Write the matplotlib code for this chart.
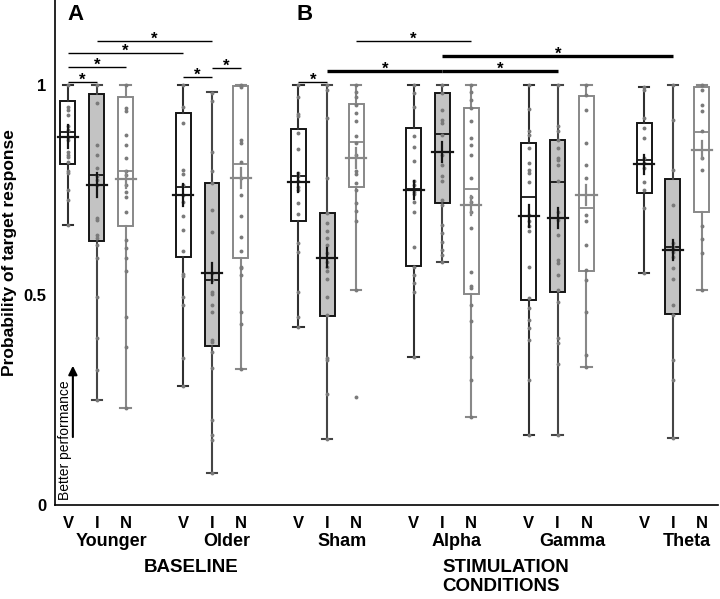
import numpy as np
import matplotlib.pyplot as plt

plt.rcParams['font.family'] = ['Liberation Sans', 'DejaVu Sans']

groups = ["Younger", "Older", "Sham", "Alpha", "Gamma", "Theta"]
conds = ["V", "I", "N"]

# box stats, order: group x (V, I, N)
q1 = [0.811, 0.629, 0.664, 0.591, 0.379, 0.587, 0.675, 0.450, 0.758,
      0.569, 0.718, 0.502, 0.487, 0.506, 0.556, 0.742, 0.455, 0.697]
med = [0.888, 0.786, 0.794, 0.756, 0.536, 0.812, 0.782, 0.589, 0.865,
       0.752, 0.883, 0.752, 0.734, 0.768, 0.706, 0.821, 0.615, 0.887]
q3 = [0.962, 0.979, 0.970, 0.933, 0.766, 0.998, 0.895, 0.694, 0.954,
      0.897, 0.980, 0.946, 0.861, 0.869, 0.974, 0.910, 0.775, 0.996]
wlo = [0.667, 0.250, 0.230, 0.284, 0.075, 0.324, 0.423, 0.157, 0.512,
       0.353, 0.579, 0.210, 0.167, 0.167, 0.329, 0.552, 0.159, 0.512]
whi = [1.0, 1.0, 1.0, 1.0, 0.982, 1.0, 1.0, 1.0, 1.0,
       1.0, 1.0, 1.0, 1.0, 1.0, 1.0, 0.996, 1.0, 1.0]
means = [0.877, 0.762, 0.775, 0.737, 0.553, 0.778, 0.768, 0.589, 0.825,
         0.750, 0.841, 0.713, 0.687, 0.683, 0.737, 0.811, 0.606, 0.845]
sem = [0.028, 0.028, 0.020, 0.026, 0.024, 0.024, 0.022, 0.022, 0.024,
       0.022, 0.024, 0.022, 0.026, 0.024, 0.024, 0.022, 0.024, 0.022]

# individual subjects
points = [
    [1.0, 0.948, 0.94, 0.929, 0.901, 0.893, 0.877, 0.869, 0.841, 0.833, 0.829,
     0.817, 0.794, 0.79, 0.75, 0.726, 0.667],
    [1.0, 0.956, 0.857, 0.833, 0.803, 0.782, 0.774, 0.762, 0.683, 0.679, 0.643,
     0.635, 0.619, 0.587, 0.496, 0.397, 0.321, 0.25],
    [1.0, 0.944, 0.937, 0.881, 0.857, 0.825, 0.794, 0.786, 0.762, 0.746, 0.734,
     0.698, 0.631, 0.611, 0.587, 0.556, 0.448, 0.377, 0.23],
    [1.0, 0.948, 0.909, 0.798, 0.787, 0.762, 0.738, 0.722, 0.687, 0.655, 0.605,
     0.549, 0.544, 0.494, 0.476, 0.351, 0.284],
    [0.98, 0.962, 0.841, 0.794, 0.767, 0.702, 0.649, 0.552, 0.536, 0.508, 0.502,
     0.476, 0.46, 0.393, 0.387, 0.365, 0.325, 0.202, 0.167, 0.155, 0.075],
    [1.0, 0.996, 0.869, 0.861, 0.817, 0.778, 0.737, 0.689, 0.639, 0.605, 0.567,
     0.563, 0.548, 0.459, 0.43, 0.324],
    [1.0, 0.972, 0.93, 0.925, 0.885, 0.848, 0.79, 0.782, 0.77, 0.758, 0.75,
     0.718, 0.692, 0.623, 0.603, 0.508, 0.448, 0.423],
    [1.0, 0.988, 0.921, 0.778, 0.694, 0.671, 0.651, 0.635, 0.619, 0.599, 0.579,
     0.567, 0.556, 0.538, 0.496, 0.452, 0.349, 0.345, 0.264, 0.157],
    [1.0, 0.984, 0.972, 0.952, 0.933, 0.913, 0.879, 0.861, 0.833, 0.794, 0.787,
     0.766, 0.75, 0.718, 0.7, 0.675, 0.512, 0.256],
    [1.0, 0.98, 0.948, 0.879, 0.851, 0.819, 0.771, 0.762, 0.746, 0.74, 0.722,
     0.698, 0.615, 0.567, 0.548, 0.528, 0.508, 0.353],
    [1.0, 0.98, 0.94, 0.917, 0.909, 0.881, 0.833, 0.81, 0.782, 0.77, 0.726,
     0.714, 0.667, 0.647, 0.627, 0.607, 0.595, 0.579],
    [1.0, 0.984, 0.964, 0.944, 0.914, 0.873, 0.857, 0.833, 0.779, 0.732, 0.722,
     0.698, 0.659, 0.554, 0.522, 0.516, 0.476, 0.437, 0.352, 0.298, 0.21],
    [1.0, 0.942, 0.889, 0.881, 0.849, 0.813, 0.798, 0.79, 0.768, 0.69, 0.675,
     0.663, 0.651, 0.567, 0.492, 0.468, 0.44, 0.421, 0.393, 0.298, 0.167],
    [1.0, 0.901, 0.889, 0.869, 0.849, 0.825, 0.821, 0.81, 0.77, 0.698, 0.679,
     0.643, 0.583, 0.575, 0.548, 0.512, 0.484, 0.397, 0.385, 0.335, 0.167],
    [1.0, 0.976, 0.94, 0.861, 0.81, 0.778, 0.69, 0.675, 0.619, 0.56, 0.536,
     0.46, 0.357, 0.329],
    [0.996, 0.988, 0.921, 0.897, 0.873, 0.825, 0.813, 0.802, 0.768, 0.75,
     0.706, 0.552],
    [1.0, 0.917, 0.798, 0.713, 0.623, 0.615, 0.603, 0.591, 0.563, 0.538, 0.476,
     0.452, 0.345, 0.298, 0.159],
    [1.0, 0.988, 0.951, 0.937, 0.889, 0.827, 0.798, 0.663, 0.633, 0.599, 0.512],
]

# significant pairs (box index a, box index b, bar height, thick bar)
sig_pairs = [(0, 1, 1.007, False), (0, 2, 1.043, False), (0, 3, 1.076, False),
             (1, 4, 1.105, False), (3, 4, 1.019, False), (4, 5, 1.040, False),
             (6, 7, 1.007, False), (8, 11, 1.105, False), (7, 10, 1.033, True),
             (10, 16, 1.069, True), (10, 13, 1.033, True)]

edge = {'V': '#151515', 'I': '#151515', 'N': '#888888'}
fill = {'V': 'white', 'I': '#c3c3c3', 'N': 'white'}
whisk = {'V': '#303030', 'I': '#454545', 'N': '#888888'}

fig = plt.figure(figsize=(7.2, 5.99), dpi=100)
ax = fig.add_axes([0.0764, 0.157, 0.921, 0.843])

pos = [1 + 4 * g + c for g in range(len(groups)) for c in range(len(conds))]
box_cond = [c for g in groups for c in conds]

stats = []
for i in range(len(pos)):
    stats.append(dict(med=med[i], q1=q1[i], q3=q3[i], whislo=wlo[i],
                      whishi=whi[i], fliers=[]))

bp = ax.bxp(stats, positions=pos, widths=0.52, patch_artist=True,
            showfliers=False, capwidths=0.36)
for i, c in enumerate(box_cond):
    bp['boxes'][i].set(facecolor=fill[c], edgecolor=edge[c], linewidth=1.4, zorder=2)
    bp['medians'][i].set(color=edge[c], linewidth=1.3, zorder=3)
    for k in (2 * i, 2 * i + 1):
        bp['whiskers'][k].set(color=whisk[c], linewidth=1.5)
        bp['caps'][k].set(color=whisk[c], linewidth=1.5)

for i, c in enumerate(box_cond):
    p = pos[i]
    ax.plot([p] * len(points[i]), points[i], 'o', ms=2.8, color='#7a7a7a',
            mec='none', zorder=4)
    ax.plot([p - 0.35, p + 0.35], [means[i], means[i]], color=edge[c], lw=1.6, zorder=5)
    ax.plot([p, p], [means[i] - sem[i], means[i] + sem[i]], color=edge[c],
            lw=1.6, zorder=5)

for a, b, y, thick in sig_pairs:
    ax.plot([pos[a], pos[b]], [y, y], color='black', lw=2.4 if thick else 1.0,
            solid_capstyle='butt', clip_on=False)
    ax.text((pos[a] + pos[b]) / 2, y + 0.004, '*', ha='center', va='center',
            fontsize=12, fontweight='bold')

ax.set_xlim(0.55, 23.57)
ax.set_ylim(0, 1.202)
ax.spines['top'].set_visible(False)
ax.spines['right'].set_visible(False)
ax.spines['left'].set_linewidth(1.2)
ax.spines['bottom'].set_linewidth(1.2)

ax.set_xticks(pos)
ax.set_xticklabels(box_cond, fontsize=12, fontweight='bold')
ax.set_yticks([0, 0.5, 1])
ax.set_yticklabels(['0', '0.5', '1'], fontsize=12, fontweight='bold')
ax.tick_params(axis='x', length=0, pad=8)
ax.tick_params(axis='y', length=0, pad=6)

ax.set_ylabel('Probability of target response', fontsize=12.5, fontweight='bold')
ax.yaxis.set_label_coords(-0.057, 0.5)

tr = ax.get_xaxis_transform()
for g, name in enumerate(groups):
    ax.text(pos[3 * g + 1] + 0.5, -0.073, name, transform=tr, ha='center',
            va='center', fontsize=13, fontweight='bold')
ax.text(5.27, -0.123, 'BASELINE', transform=tr, ha='center', va='center',
        fontsize=13.5, fontweight='bold')
ax.text(14.0, -0.108, 'STIMULATION\nCONDITIONS', transform=tr, ha='left',
        va='top', fontsize=13.5, fontweight='bold', linespacing=1.15)

ax.text(0.9, 0.012, 'Better performance', rotation=90, ha='center',
        va='bottom', fontsize=10)
ax.annotate('', xy=(1.17, 0.338), xytext=(1.17, 0.155),
            arrowprops=dict(arrowstyle='-|>', color='black', lw=1.5,
                            mutation_scale=13))

fig.text(75 / 720, 1 - 15 / 599, 'A', ha='center', va='center', fontsize=16,
         fontweight='bold')
fig.text(305 / 720, 1 - 15 / 599, 'B', ha='center', va='center', fontsize=16,
         fontweight='bold')

fig.savefig('out.png', dpi=100)
